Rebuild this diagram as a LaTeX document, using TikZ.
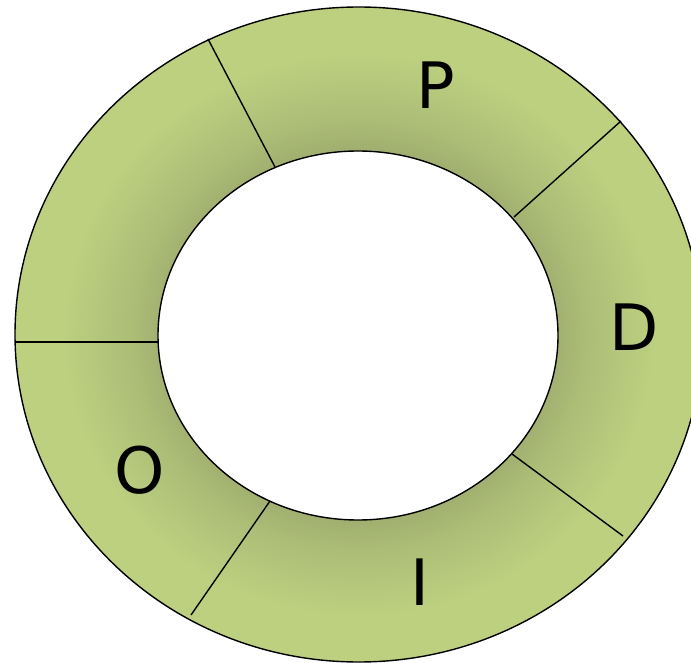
\documentclass[tikz,border=0pt]{standalone}
\usepackage{fontspec}
\setmainfont{DejaVu Sans}
\definecolor{ringlight}{RGB}{188,208,128}
\definecolor{ringmid}{RGB}{172,189,118}
\definecolor{ringdark}{RGB}{160,174,111}
\pgfdeclareradialshading{ringshade}{\pgfpoint{0bp}{0bp}}{color(0bp)=(ringdark); color(14bp)=(ringdark); color(16.5bp)=(ringmid); color(21.5bp)=(ringlight); color(50bp)=(ringlight)}
\begin{document}
\begin{tikzpicture}[x=1pt,y=-1pt,
  ringline/.style={line width=1.4pt},
  divider/.style={line width=1.4pt},
  lbl/.style={font=\fontsize{64}{64}\selectfont, inner sep=0pt}]
\useasboundingbox (0,0) rectangle (691,663);
\coordinate (oc) at (358.8,334.5);
\coordinate (ic) at (358,335.5);
\shade[shading=ringshade, even odd rule]
  (oc) ellipse [x radius=343.8pt, y radius=327.5pt]
  (ic) ellipse [x radius=200pt, y radius=184.5pt];
\draw[ringline] (oc) ellipse [x radius=343.8pt, y radius=327.5pt];
\draw[ringline] (ic) ellipse [x radius=200pt, y radius=184.5pt];
% dividers
\coordinate (a1) at (208,39);  \coordinate (b1) at (275,167);
\coordinate (a2) at (621,121); \coordinate (b2) at (514,217);
\coordinate (a3) at (623,536); \coordinate (b3) at (512,454);
\coordinate (a4) at (191,615); \coordinate (b4) at (270,501);
\coordinate (a5) at (15,342);  \coordinate (b5) at (158,342);
\draw[divider] (a1) -- (b1);
\draw[divider] (a2) -- (b2);
\draw[divider] (a3) -- (b3);
\draw[divider] (a4) -- (b4);
\draw[divider] (a5) -- (b5);
% labels
\node[lbl] (lp) at (436,85) {P};
\node[lbl] (ld) at (634,327) {D};
\node[lbl] (lo) at (140,470) {O};
\node[lbl] (li) at (420,582) {I};
\end{tikzpicture}
\end{document}
